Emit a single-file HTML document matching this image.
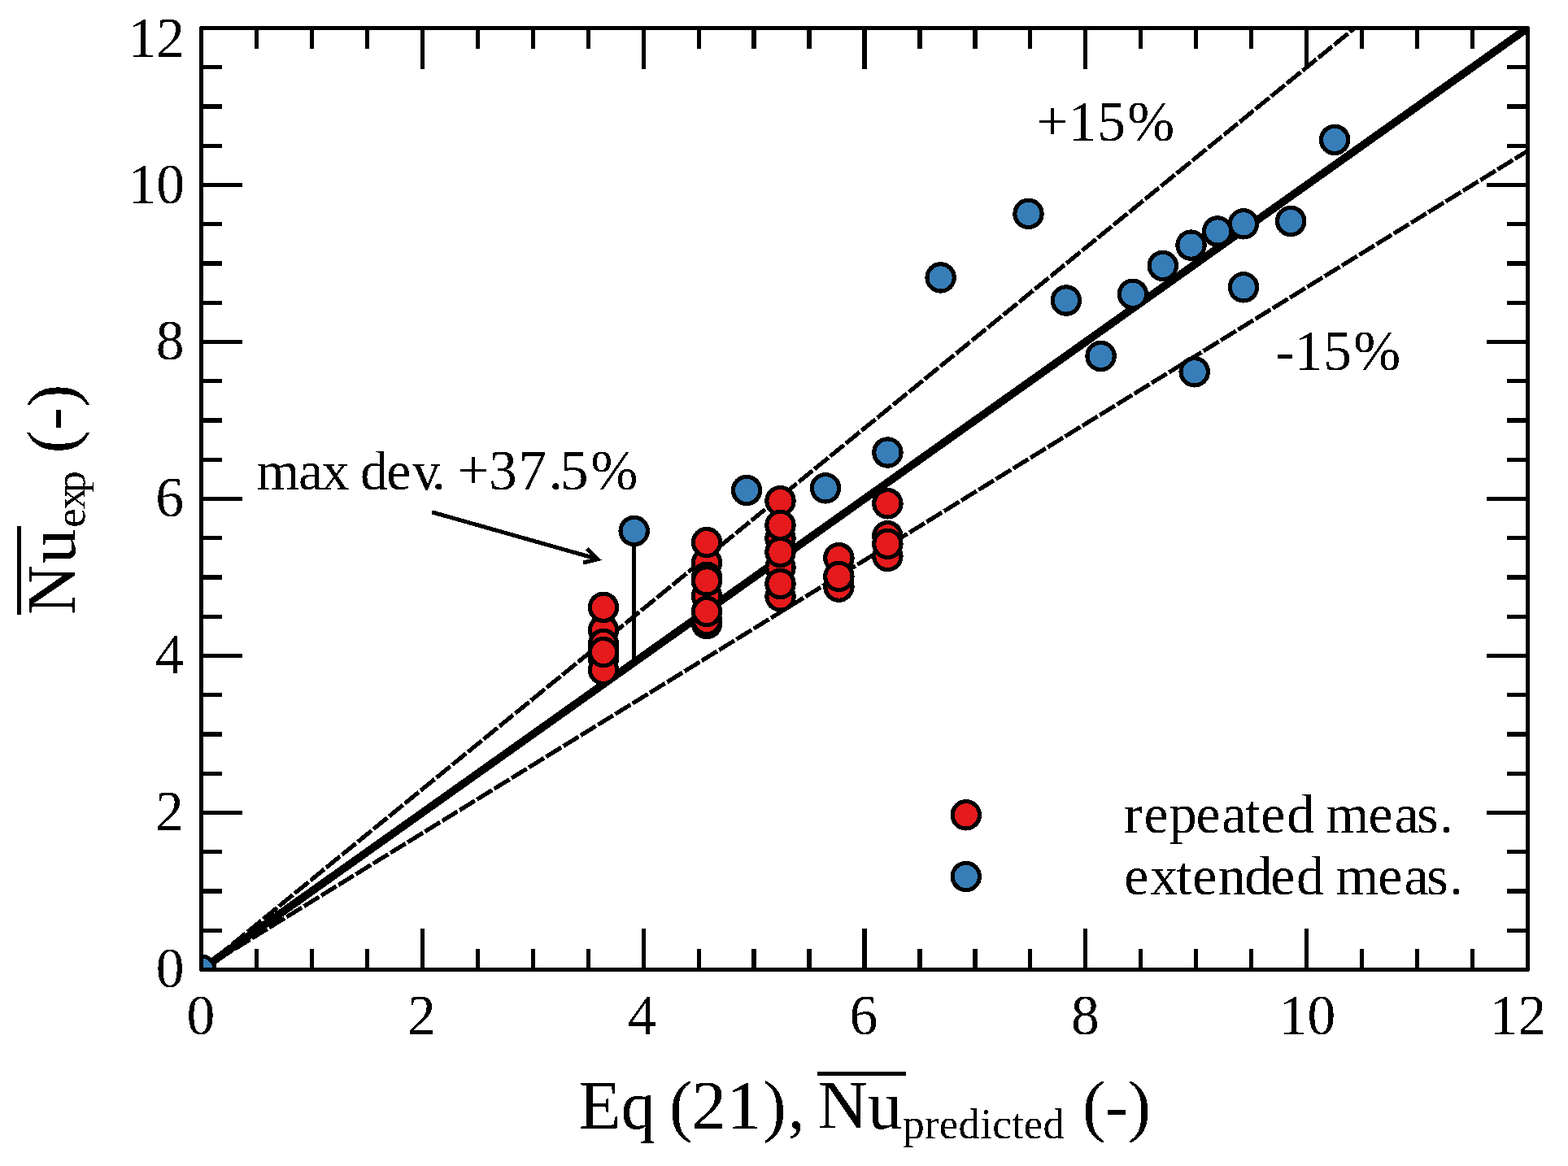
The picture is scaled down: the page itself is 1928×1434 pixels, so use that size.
<!DOCTYPE html>
<html lang="en"><head><meta charset="utf-8"><title>Nusselt number: experiment vs. prediction</title>
<style>
html,body{margin:0;padding:0;background:#fff;}
body{width:1928px;height:1434px;overflow:hidden;}
svg{display:block;}
text{font-family:"Liberation Serif","Times New Roman",Times,serif;fill:#000;filter:url(#bw);}
.t{font-size:69.5px;}
.w{font-size:68px;}
.l{font-size:85px;}
.s{font-size:53px;}
.ax{stroke:#000;stroke-width:5.2;fill:none;}
.m{stroke:#000;stroke-width:5.2;}
.r{fill:#e41a1c;}
.b{fill:#377eb8;}
.k{stroke:#000;fill:none;}
</style></head><body>
<svg width="1928" height="1434" viewBox="0 0 1928 1434">
<rect x="0" y="0" width="1928" height="1434" fill="#fff"/>
<defs><filter id="bw" x="-5%" y="-5%" width="110%" height="110%" color-interpolation-filters="sRGB"><feComponentTransfer><feFuncA type="discrete" tableValues="0 1"/></feComponentTransfer></filter><clipPath id="plot"><rect x="247.50" y="34.50" width="1631.00" height="1158.00"/></clipPath></defs>
<g clip-path="url(#plot)" shape-rendering="crispEdges">
<line class="k" x1="247.50" y1="1192.50" x2="1665.76" y2="34.50" stroke-width="5.20" stroke-dasharray="22 3" stroke-dashoffset="1.75"/>
<line class="k" x1="247.50" y1="1192.50" x2="1878.50" y2="185.54" stroke-width="5.20" stroke-dasharray="22 3" stroke-dashoffset="1.75"/>
<line class="k" x1="247.50" y1="1192.50" x2="1878.50" y2="34.50" stroke-width="9.7"/>
<line class="k" x1="779.6" y1="653" x2="779.6" y2="814.71" stroke-width="4.8"/>
<circle class="m b" cx="247.5" cy="1192.5" r="16.65"/>
<circle class="m b" cx="779.7" cy="653" r="16.65"/>
<circle class="m b" cx="918.1" cy="603" r="16.65"/>
<circle class="m b" cx="1015" cy="600.3" r="16.65"/>
<circle class="m b" cx="1091.4" cy="556.5" r="16.65"/>
<circle class="m b" cx="1156.6" cy="341.4" r="16.65"/>
<circle class="m b" cx="1264.5" cy="262.9" r="16.65"/>
<circle class="m b" cx="1310.9" cy="369.5" r="16.65"/>
<circle class="m b" cx="1353.6" cy="438" r="16.65"/>
<circle class="m b" cx="1392.9" cy="361.8" r="16.65"/>
<circle class="m b" cx="1429.8" cy="326.9" r="16.65"/>
<circle class="m b" cx="1464.5" cy="301.6" r="16.65"/>
<circle class="m b" cx="1497.2" cy="284.5" r="16.65"/>
<circle class="m b" cx="1529" cy="275.3" r="16.65"/>
<circle class="m b" cx="1529" cy="353.3" r="16.65"/>
<circle class="m b" cx="1468.7" cy="457.3" r="16.65"/>
<circle class="m b" cx="1587.2" cy="272" r="16.65"/>
<circle class="m b" cx="1641.1" cy="171.9" r="16.65"/>
<circle class="m r" cx="742" cy="810" r="16.65"/>
<circle class="m r" cx="742" cy="823.8" r="16.65"/>
<circle class="m r" cx="742" cy="775" r="16.65"/>
<circle class="m r" cx="742" cy="792" r="16.65"/>
<circle class="m r" cx="742" cy="802.1" r="16.65"/>
<circle class="m r" cx="742" cy="746.9" r="16.65"/>
<circle class="m r" cx="869" cy="767" r="16.65"/>
<circle class="m r" cx="869" cy="763" r="16.65"/>
<circle class="m r" cx="869" cy="733" r="16.65"/>
<circle class="m r" cx="869" cy="692" r="16.65"/>
<circle class="m r" cx="869" cy="709.8" r="16.65"/>
<circle class="m r" cx="869" cy="752.1" r="16.65"/>
<circle class="m r" cx="869" cy="714.4" r="16.65"/>
<circle class="m r" cx="869" cy="667.1" r="16.65"/>
<circle class="m r" cx="959.5" cy="733.5" r="16.65"/>
<circle class="m r" cx="959.5" cy="698" r="16.65"/>
<circle class="m r" cx="959.5" cy="662" r="16.65"/>
<circle class="m r" cx="959.5" cy="718" r="16.65"/>
<circle class="m r" cx="959.5" cy="679" r="16.65"/>
<circle class="m r" cx="959.5" cy="616.1" r="16.65"/>
<circle class="m r" cx="959.5" cy="645.9" r="16.65"/>
<circle class="m r" cx="1031.4" cy="721.6" r="16.65"/>
<circle class="m r" cx="1031.4" cy="686.2" r="16.65"/>
<circle class="m r" cx="1031.4" cy="708.9" r="16.65"/>
<circle class="m r" cx="1091.4" cy="684" r="16.65"/>
<circle class="m r" cx="1091.4" cy="659.3" r="16.65"/>
<circle class="m r" cx="1091.4" cy="668.9" r="16.65"/>
<circle class="m r" cx="1091.4" cy="619.3" r="16.65"/>
</g>
<g shape-rendering="crispEdges">
<path class="ax" d="M315.46 1192.5v-25.5M315.46 34.5v25.5M247.5 1144.25h25.5M1878.5 1144.25h-25.5M383.42 1192.5v-25.5M383.42 34.5v25.5M247.5 1096.00h25.5M1878.5 1096.00h-25.5M451.38 1192.5v-25.5M451.38 34.5v25.5M247.5 1047.75h25.5M1878.5 1047.75h-25.5M519.33 1192.5v-50.5M519.33 34.5v50.5M247.5 999.50h50.5M1878.5 999.50h-50.5M587.29 1192.5v-25.5M587.29 34.5v25.5M247.5 951.25h25.5M1878.5 951.25h-25.5M655.25 1192.5v-25.5M655.25 34.5v25.5M247.5 903.00h25.5M1878.5 903.00h-25.5M723.21 1192.5v-25.5M723.21 34.5v25.5M247.5 854.75h25.5M1878.5 854.75h-25.5M791.17 1192.5v-50.5M791.17 34.5v50.5M247.5 806.50h50.5M1878.5 806.50h-50.5M859.12 1192.5v-25.5M859.12 34.5v25.5M247.5 758.25h25.5M1878.5 758.25h-25.5M927.08 1192.5v-25.5M927.08 34.5v25.5M247.5 710.00h25.5M1878.5 710.00h-25.5M995.04 1192.5v-25.5M995.04 34.5v25.5M247.5 661.75h25.5M1878.5 661.75h-25.5M1063.00 1192.5v-50.5M1063.00 34.5v50.5M247.5 613.50h50.5M1878.5 613.50h-50.5M1130.96 1192.5v-25.5M1130.96 34.5v25.5M247.5 565.25h25.5M1878.5 565.25h-25.5M1198.92 1192.5v-25.5M1198.92 34.5v25.5M247.5 517.00h25.5M1878.5 517.00h-25.5M1266.88 1192.5v-25.5M1266.88 34.5v25.5M247.5 468.75h25.5M1878.5 468.75h-25.5M1334.83 1192.5v-50.5M1334.83 34.5v50.5M247.5 420.50h50.5M1878.5 420.50h-50.5M1402.79 1192.5v-25.5M1402.79 34.5v25.5M247.5 372.25h25.5M1878.5 372.25h-25.5M1470.75 1192.5v-25.5M1470.75 34.5v25.5M247.5 324.00h25.5M1878.5 324.00h-25.5M1538.71 1192.5v-25.5M1538.71 34.5v25.5M247.5 275.75h25.5M1878.5 275.75h-25.5M1606.67 1192.5v-50.5M1606.67 34.5v50.5M247.5 227.50h50.5M1878.5 227.50h-50.5M1674.62 1192.5v-25.5M1674.62 34.5v25.5M247.5 179.25h25.5M1878.5 179.25h-25.5M1742.58 1192.5v-25.5M1742.58 34.5v25.5M247.5 131.00h25.5M1878.5 131.00h-25.5M1810.54 1192.5v-25.5M1810.54 34.5v25.5M247.5 82.75h25.5M1878.5 82.75h-25.5"/>
<rect class="ax" stroke-linejoin="round" x="247.5" y="34.5" width="1631" height="1158"/>
</g>
<text class="t" x="229.6" y="1272">0</text>
<text class="t" x="501.1" y="1272">2</text>
<text class="t" x="772.1" y="1272">4</text>
<text class="t" x="1044.4" y="1272">6</text>
<text class="t" x="1317.1" y="1272">8</text>
<text class="t" x="1572.7" y="1272">10</text>
<text class="t" x="1831.7" y="1272">12</text>
<text class="t" x="157.6" y="69.7">12</text>
<text class="t" x="157.4" y="249.9">10</text>
<text class="t" x="191.7" y="442">8</text>
<text class="t" x="191.2" y="635.2">6</text>
<text class="t" x="190.9" y="827.8">4</text>
<text class="t" x="191" y="1021">2</text>
<text class="t" x="191.7" y="1213.9">0</text>
<text class="t" x="1274.4 1313.7 1349.3 1386.3" y="172.8">+15%</text>
<text class="t" x="1568.8 1591.7 1627.2 1664.2" y="455.1">-15%</text>
<text class="w" x="315.2 367.1 395.4 415.4 443 475.3 507.2 530.8 550.8 562.4 600.9 637.5 674.6 688.8 726.4" y="602.3">max dev. <tspan class="t">+37.5%</tspan></text>
<path class="k" shape-rendering="crispEdges" d="M531 629.8L735 687.6M721.6 674.7L735 687.6L717 692.1" stroke-width="5"/>
<circle class="m r" shape-rendering="crispEdges" cx="1187.8" cy="1002.3" r="16.65"/>
<circle class="m b" shape-rendering="crispEdges" cx="1187.8" cy="1078" r="16.65"/>
<text class="w" x="1381.9 1406.4 1437.7 1470.4 1502.2 1530.7 1550.3 1582.3 1602.3 1630.3 1682.4 1714.5 1742.2 1769.9" y="1024.1">repeated meas.</text>
<text class="w" x="1382.2 1414.2 1446.5 1466.3 1497.7 1530.2 1562.3 1594.1 1614.1 1642.4 1694.3 1726.4 1754.2 1782" y="1100.3">extended meas.</text>
<text class="l" x="711.7 763.4 783.4 823 850.5 893.6 938.6 968.6" y="1388">Eq (21),</text>
<text class="l" x="1005.6 1066.9" y="1388">Nu</text>
<text class="s" x="1110.2" y="1400.2" style="letter-spacing:0.22px">predicted</text>
<text class="l" x="1331 1358.7 1386.8" y="1388">(-)</text>
<path class="k" shape-rendering="crispEdges" d="M1005 1320.5H1114" stroke-width="5"/>
<g transform="translate(92.2 0) rotate(-90)">
<text class="l" x="-756.1 -693.2" y="0">Nu</text>
<text class="s" x="-648.8 -626.2 -605.7" y="12.3">exp</text>
<text class="l" x="-557.4 -529.1 -501.1" y="0">(-)</text>
<path class="k" shape-rendering="crispEdges" d="M-756 -68.7H-647" stroke-width="5"/>
</g>
</svg>
</body></html>
